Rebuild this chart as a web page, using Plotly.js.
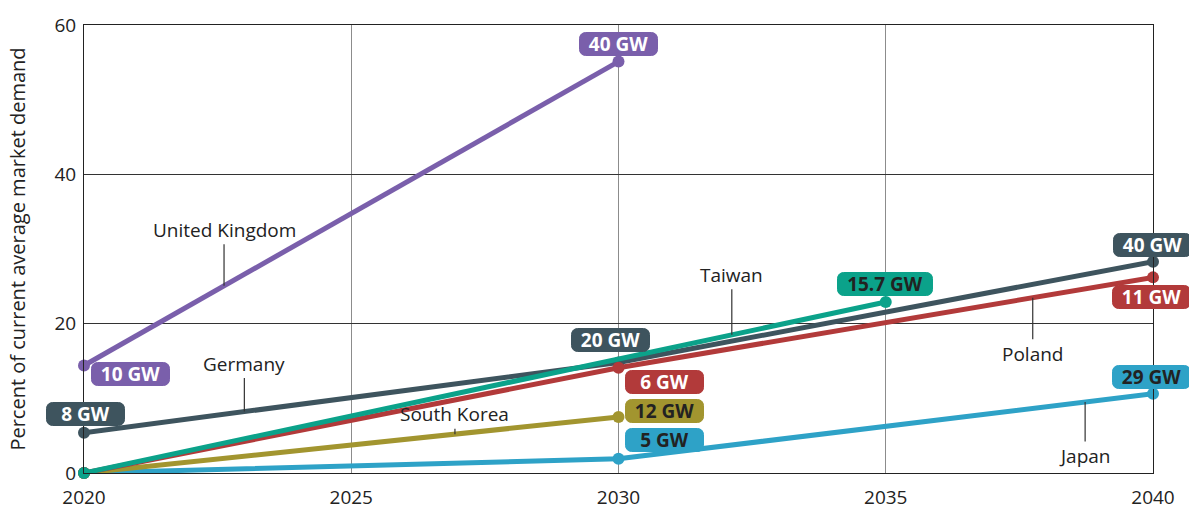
<!DOCTYPE html>
<html>
<head>
<meta charset="utf-8">
<script src="https://cdn.plot.ly/plotly-3.0.1.min.js"></script>
<style>html,body{margin:0;padding:0;background:#fff;}#chart{width:1189px;height:509px;}</style>
</head>
<body>
<div id="chart"></div>
<script>
// ---- data ----
const ukYears = [2020, 2030];
const ukValues = [14.4, 55.1];
const ukLabels = ["10 GW", "40 GW"];

const germanyYears = [2020, 2030, 2040];
const germanyValues = [5.4, 14.8, 28.3];
const germanyLabels = ["8 GW", "20 GW", "40 GW"];

const taiwanYears = [2020, 2035];
const taiwanValues = [0, 22.9];
const taiwanLabels = ["", "15.7 GW"];

const polandYears = [2020, 2030, 2040];
const polandValues = [0, 14.1, 26.2];
const polandLabels = ["", "6 GW", "11 GW"];

const koreaYears = [2020, 2030];
const koreaValues = [0, 7.5];
const koreaLabels = ["", "12 GW"];

const japanYears = [2020, 2030, 2040];
const japanValues = [0, 1.9, 10.6];
const japanLabels = ["", "5 GW", "29 GW"];

const xTicks = [2020, 2025, 2030, 2035, 2040];
const yTicks = [0, 20, 40, 60];

// ---- styles ----
const FONT = "'Open Sans', Lato, sans-serif";
const C = {
  uk: "#7a5fab", germany: "#3e545e", taiwan: "#0ba28a",
  poland: "#b23a3a", korea: "#a2952f", japan: "#2ea2c7"
};

function line(x, y, color) {
  return {
    type: "scatter", mode: "lines+markers", x: x, y: y,
    line: {color: color, width: 5},
    marker: {color: color, size: 12},
    cliponaxis: false, hoverinfo: "skip", showlegend: false
  };
}

const traces = [
  line(germanyYears, germanyValues, C.germany),
  line(japanYears, japanValues, C.japan),
  line(koreaYears, koreaValues, C.korea),
  line(polandYears, polandValues, C.poland),
  line(taiwanYears, taiwanValues, C.taiwan),
  line(ukYears, ukValues, C.uk)
];

function valueLabels(years, values, labels, color, textColor, offsets) {
  const out = [];
  years.forEach((yr, i) => {
    if (!labels[i]) return;
    out.push({
      x: yr, y: values[i], xref: "x", yref: "y",
      text: "<b>" + labels[i] + "</b>",
      showarrow: true, arrowcolor: "rgba(0,0,0,0)", arrowwidth: 0.1,
      ax: offsets[i][0], ay: offsets[i][1],
      xanchor: "center", yanchor: "middle",
      bgcolor: color, bordercolor: color, borderwidth: 1, borderpad: 0,
      width: labels[i].length > 5 ? 94 : 77, height: 22,
      font: {family: FONT, size: 19, color: textColor}
    });
  });
  return out;
}

function interp(years, values, x) {
  for (let i = 0; i < years.length - 1; i++) {
    if (x >= years[i] && x <= years[i + 1]) {
      const t = (x - years[i]) / (years[i + 1] - years[i]);
      return values[i] + t * (values[i + 1] - values[i]);
    }
  }
  return values[values.length - 1];
}

function nameLabel(name, years, values, xAt, ay) {
  return {
    x: xAt, y: interp(years, values, xAt), xref: "x", yref: "y",
    text: name, showarrow: true, arrowhead: 0, arrowwidth: 1.2, arrowcolor: "#333",
    ax: 0, ay: ay, standoff: 0, startstandoff: 0,
    font: {family: FONT, size: 19, color: "#222"}
  };
}

const annotations = [].concat(
  valueLabels(ukYears, ukValues, ukLabels, C.uk, "#fff", [[46, 9], [0, -18]]),
  valueLabels(germanyYears, germanyValues, germanyLabels, C.germany, "#fff", [[1, -19], [-8, -22], [-1, -17]]),
  valueLabels(polandYears, polandValues, polandLabels, C.poland, "#fff", [[0, 0], [46, 14], [-2, 20]]),
  valueLabels(koreaYears, koreaValues, koreaLabels, C.korea, "#222", [[0, 0], [46, -6]]),
  valueLabels(japanYears, japanValues, japanLabels, C.japan, "#222", [[0, 0], [46, -19], [-2, -17]]),
  valueLabels(taiwanYears, taiwanValues, taiwanLabels, C.taiwan, "#222", [[0, 0], [-1, -18]]),
  [
    nameLabel("United Kingdom", ukYears, ukValues, 2022.62, -56),
    nameLabel("Germany", germanyYears, germanyValues, 2023.0, -48),
    nameLabel("South Korea", koreaYears, koreaValues, 2026.94, -20),
    nameLabel("Taiwan", taiwanYears, taiwanValues, 2032.12, -60),
    nameLabel("Poland", polandYears, polandValues, 2037.75, 56),
    nameLabel("Japan", japanYears, japanValues, 2038.73, 54)
  ]
);

const layout = {
  width: 1189, height: 509,
  margin: {l: 84, r: 36, t: 25, b: 36},
  paper_bgcolor: "#fff", plot_bgcolor: "#fff",
  font: {family: FONT, size: 19, color: "#222"},
  xaxis: {
    range: [2020, 2040], tickvals: xTicks, ticktext: xTicks.map(String),
    showgrid: true, gridcolor: "#8c8c8c", gridwidth: 1,
    showline: true, linecolor: "#222", linewidth: 1, mirror: true,
    zeroline: false, ticks: "", ticklabelstandoff: 7,
    tickfont: {size: 19, color: "#222"}
  },
  yaxis: {
    range: [0, 60], tickvals: yTicks, ticktext: yTicks.map(String),
    showgrid: true, gridcolor: "#333", gridwidth: 1,
    showline: true, linecolor: "#222", linewidth: 1, mirror: true,
    zeroline: false, ticks: "", ticklabelstandoff: 3,
    tickfont: {size: 19, color: "#222"},
    title: {text: "Percent of current average market demand", font: {size: 20, color: "#222"}, standoff: 23}
  },
  annotations: annotations
};

Plotly.newPlot("chart", traces, layout, {staticPlot: true, displayModeBar: false}).then(function (gd) {
  gd.querySelectorAll(".annotation rect.bg").forEach(function (r) {
    r.setAttribute("rx", 6);
    r.setAttribute("ry", 6);
  });
});
</script>
</body>
</html>
